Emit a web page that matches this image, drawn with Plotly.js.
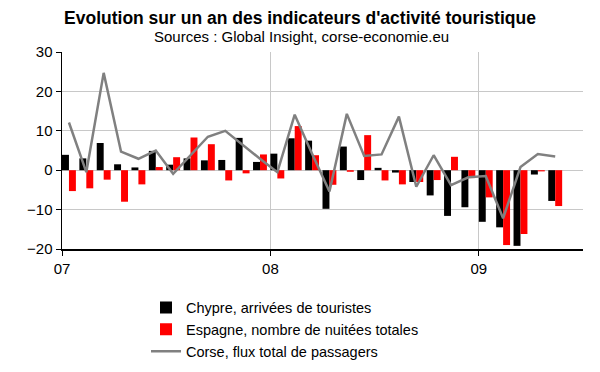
<!DOCTYPE html>
<html>
<head>
<meta charset="utf-8">
<script src="https://cdn.plot.ly/plotly-3.0.1.min.js"></script>
<style>html,body{margin:0;padding:0;background:#fff;}#chart{width:600px;height:372px;}</style>
</head>
<body>
<div id="chart"></div>
<script>
// Month index 0 = Jan 2007 ... 29 = Jun 2009
var months = [0,1,2,3,4,5,6,7,8,9,10,11,12,13,14,15,16,17,18,19,20,21,22,23,24,25,26,27,28,29];
var chypre = [3.9,3.0,6.9,1.5,0.7,4.9,1.4,3.0,2.5,2.6,8.2,2.1,4.2,8.1,7.5,-9.8,6.0,-2.5,0.6,-0.6,-3.0,-6.4,-11.6,-9.4,-13.1,-14.5,-19.2,-1.1,-7.8,null];
var espagne = [-5.3,-4.6,-2.4,-8.0,-3.6,0.8,3.3,8.3,6.6,-2.6,-0.8,4.0,-2.1,11.2,3.8,-3.7,-0.4,8.9,-2.6,-3.6,-3.0,-2.5,3.4,-2.0,-6.9,-19.0,-16.2,-0.3,-9.1,null];
var corse = [12.1,-0.5,24.7,4.7,2.9,5.0,-0.9,3.9,8.5,10.0,6.4,2.9,-0.5,14.1,4.2,-5.4,14.3,3.6,4.0,13.6,-4.2,3.8,-3.8,-1.8,-1.5,-12.2,0.8,4.1,3.5,null];
var tickVals = [0,12,24];
var tickText = ["07","08","09"];
var names = ["Chypre, arrivées de touristes","Espagne, nombre de nuitées totales","Corse, flux total de passagers"];

var barW = 0.4;
var lineX = months.map(function(m){ return m + barW; });

var traces = [
  {type:'bar', x:months, y:chypre, name:names[0], width:barW, offset:0,
   marker:{color:'#000000', line:{width:0}}},
  {type:'bar', x:months, y:espagne, name:names[1], width:barW, offset:barW,
   marker:{color:'#ff0000', line:{width:0}}},
  {type:'scatter', mode:'lines', x:lineX, y:corse, name:names[2],
   line:{color:'#808080', width:2.5}, connectgaps:false}
];

var layout = {
  width:600, height:372,
  margin:{l:62, r:17, t:52, b:123},
  paper_bgcolor:'#ffffff', plot_bgcolor:'#ffffff',
  font:{family:'"Liberation Sans", Arial, sans-serif', size:15, color:'#000'},
  title:{text:'<b>Evolution sur un an des indicateurs d\'activité touristique</b>',
         font:{size:17.5, color:'#000'}, x:0.5, xref:'container', xanchor:'center',
         y:1-17.5/372, yref:'container', yanchor:'middle', automargin:false},
  annotations:[{text:'Sources : Global Insight, corse-economie.eu', xref:'paper', yref:'paper',
    x:(301-62)/521, y:1+16/197, xanchor:'center', yanchor:'middle', showarrow:false,
    font:{size:15, color:'#000'}}],
  barmode:'overlay',
  showlegend:true,
  legend:{x:(146-62)/521, xref:'paper', y:1-291.5/372, yref:'container', xanchor:'left', yanchor:'top',
          font:{size:14.5, color:'#000'}, bgcolor:'rgba(0,0,0,0)', tracegroupgap:0, traceorder:'normal'},
  xaxis:{range:[0,30], tickmode:'array', tickvals:tickVals, ticktext:tickText,
         showgrid:true, gridcolor:'#c8c8c8', gridwidth:1,
         showline:true, linecolor:'#000', linewidth:1.5,
         ticks:'outside', ticklen:5, tickcolor:'#000', tickwidth:1,
         zeroline:false, tickfont:{size:15}},
  yaxis:{range:[-20,30], tickvals:[-20,-10,0,10,20,30],
         showgrid:true, gridcolor:'#c8c8c8', gridwidth:1,
         showline:true, linecolor:'#000', linewidth:1.5,
         ticks:'outside', ticklen:5, tickcolor:'#000', tickwidth:1,
         zeroline:false, tickfont:{size:15}}
};

Plotly.newPlot('chart', traces, layout, {displayModeBar:false, staticPlot:true});
</script>
</body>
</html>
